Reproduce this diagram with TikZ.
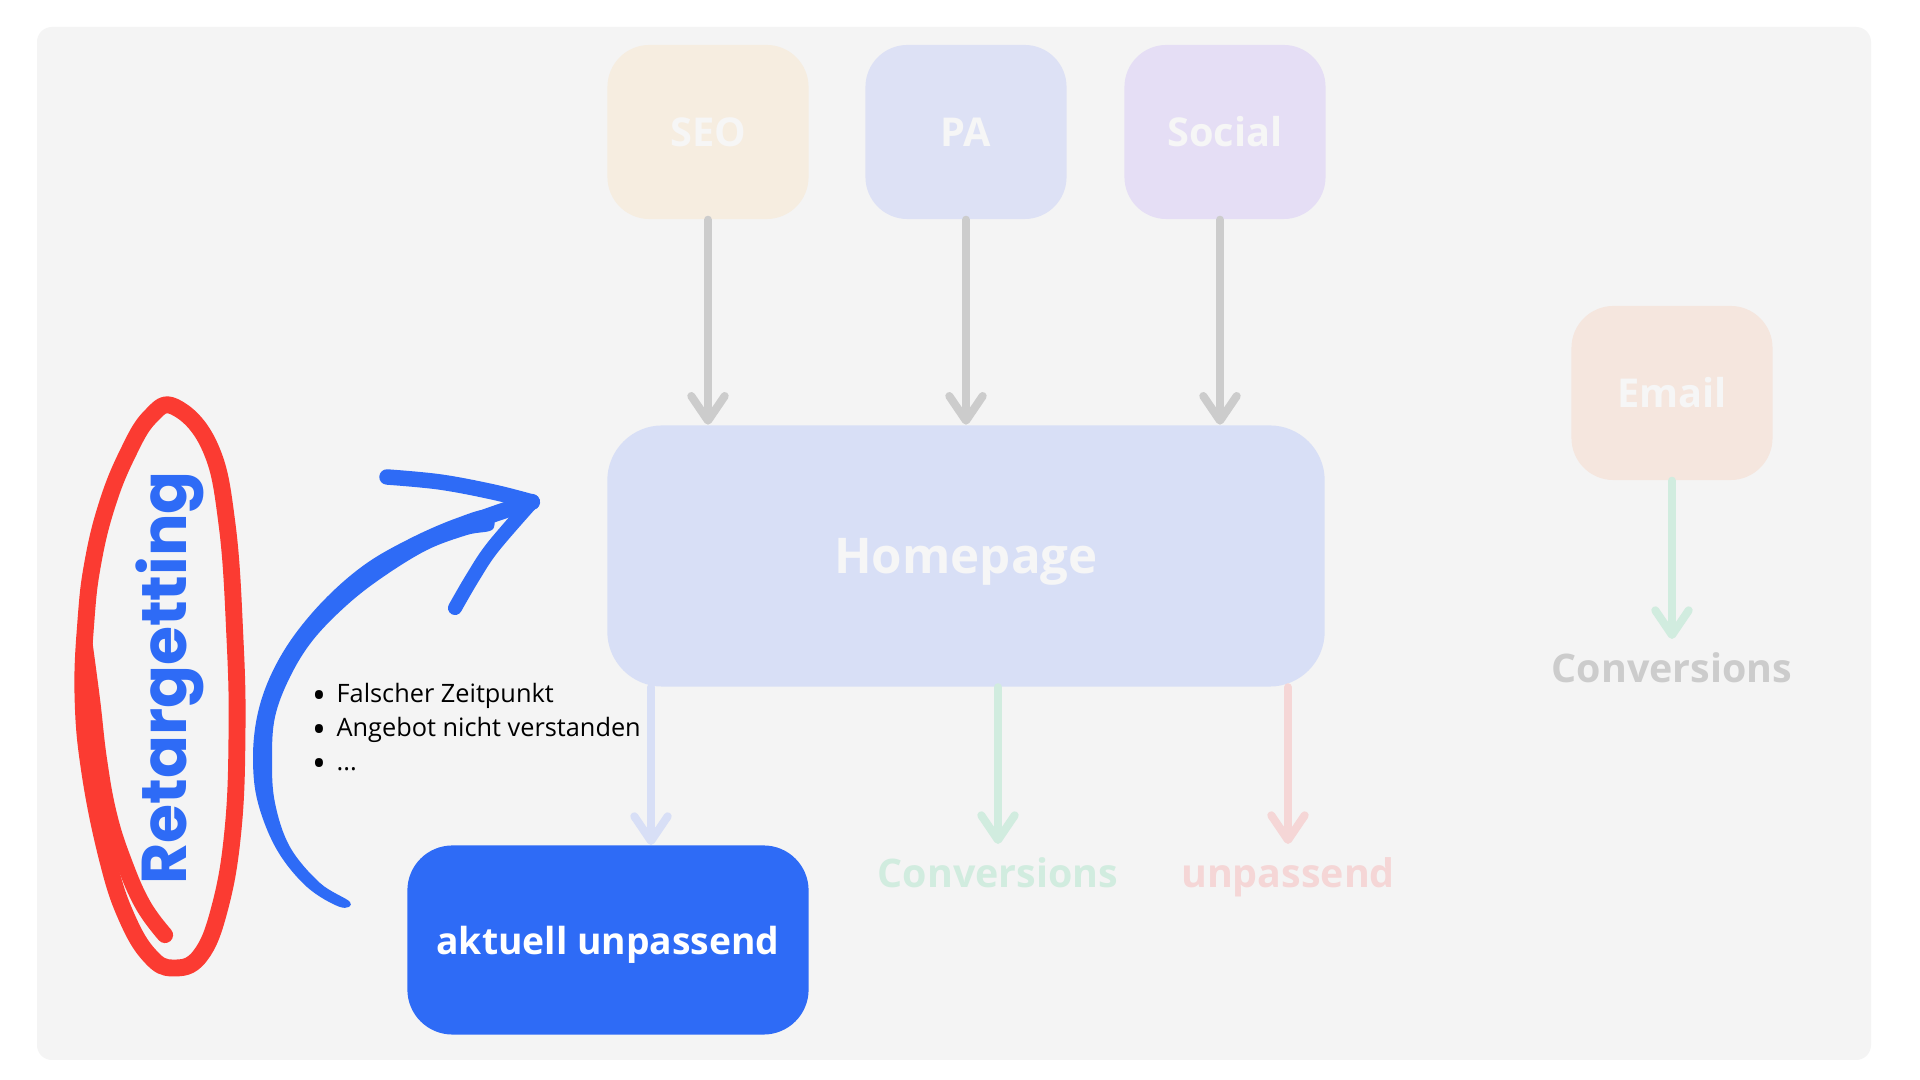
\documentclass[tikz,border=0pt]{standalone}
\usepackage{fontspec}
\setmainfont{Open Sans}
\newfontfamily\popfont{Poppins}
\usetikzlibrary{positioning,arrows.meta}

\definecolor{panel}{HTML}{F4F4F4}
\definecolor{seofill}{HTML}{F6EDE0}
\definecolor{pafill}{HTML}{DDE1F5}
\definecolor{socialfill}{HTML}{E5DEF5}
\definecolor{mailfill}{HTML}{F5E6DE}
\definecolor{homefill}{HTML}{D8DFF6}
\definecolor{paletext}{HTML}{F6F6F6}
\definecolor{arrgray}{HTML}{CCCCCC}
\definecolor{brandblue}{HTML}{2E6BF6}
\definecolor{loopred}{HTML}{FB3B32}
\definecolor{convgreen}{HTML}{D1ECDF}
\definecolor{badpink}{HTML}{F5D6D6}

\newcommand{\dotitem}{\makebox[6.8pt][l]{\raisebox{-1.5pt}{\fontsize{10.5}{10}\selectfont\textbullet}}}

\begin{document}
\begin{tikzpicture}[
    x=0.01cm, y=-0.01cm,
    chan/.style={rounded corners=0.42cm, minimum width=2.01cm, minimum height=1.74cm,
      text=paletext, text height=8.1pt, text depth=0pt, font=\bfseries\fontsize{11.3}{13}\selectfont},
    label/.style={inner sep=0pt, outer sep=4pt, font=\bfseries\fontsize{11.2}{13}\selectfont},
    arr/.style={-{Straight Barb[length=7pt,width=9.5pt,round]}, line width=2.3pt, line cap=round},
    pen/.style={line cap=round, line join=round}
]
% canvas
\fill[white] (0,0) rectangle (1920,1080);
\fill[panel, rounded corners=0.15cm] (37,27) rectangle (1871,1060);

% channels
\node[chan, fill=seofill] (seo) at (708,132) {SEO};
\node[chan, fill=pafill] (pa) at (966,132) {PA};
\node[chan, fill=socialfill] (social) at (1225,132) {Social};
\node[chan, fill=mailfill] (email) at (1672,393) {Email};

\node[fill=homefill, rounded corners=0.55cm, minimum width=7.17cm, minimum height=2.61cm,
  text=paletext, text height=10pt, text depth=0pt,
  font=\bfseries\fontsize{14}{16}\selectfont] (home) at (966,556) {Homepage};

\node[fill=brandblue, rounded corners=0.45cm, minimum width=4.01cm, minimum height=1.89cm,
  text=white, text height=8pt, text depth=0pt,
  font=\bfseries\fontsize{10.6}{12}\selectfont] (akt) at (608,940) {aktuell unpassend};

% outcomes
\node[label, text=arrgray, anchor=base] (mailconv) at (1672,683) {Conversions};
\node[label, text=convgreen, anchor=base] (conv) at (998,888) {Conversions};
\node[label, text=badpink, anchor=base] (unp) at (1288,888) {unpassend};
\coordinate (lost) at (651,845);

% channel arrows
\draw[arr, arrgray] (seo) -- (seo |- home.north);
\draw[arr, arrgray] (pa) -- (pa |- home.north);
\draw[arr, arrgray] ([xshift=-0.05cm]social.south) -- ([xshift=-0.05cm]social.south |- home.north);
\draw[arr, convgreen] (email) -- (mailconv);

\draw[arr, homefill] (lost |- home.south) -- (lost);
\draw[arr, convgreen] (conv |- home.south) -- (conv);
\draw[arr, badpink] (unp |- home.south) -- (unp);

% reasons
\node[inner sep=0pt, anchor=base west, align=left, font=\fontsize{7.2}{9.7}\selectfont] (why) at (312,771)
  {\dotitem Falscher Zeitpunkt\\
   \dotitem Angebot nicht verstanden\\
   \dotitem ...};

% retargeting loop
\node[rotate=90, anchor=base, text=brandblue, font=\popfont\bfseries\fontsize{18}{20}\selectfont]
  (retarget) at (186,678) {Retargetting};
\draw[loopred, pen, line width=4.8pt]
  plot[smooth cycle, tension=0.7] coordinates {(175,407) (210,447) (227,524) (235,639) (237,734)
    (233,830) (220,907) (200,956) (173,968) (150,956) (127,918) (108,861) (90,773) (83,696)
    (86,620) (93,562) (107,505) (127,455) (150,417)};
\draw[loopred, pen, line width=4.6pt]
  plot[smooth, tension=0.7] coordinates {(84,640) (92,700) (99,760) (109,815) (124,862) (143,905) (165,935)};

% way back
\fill[brandblue]
  plot[smooth cycle, tension=0.6] coordinates {(340,907) (307,887) (277,850) (258,803) (253,760)
    (257,717) (270,677) (293,637) (327,597) (367,563) (413,537) (457,518) (488,510)
    (493,529) (467,535) (427,550) (383,577) (347,605) (313,640) (290,677) (275,717)
    (272,760) (275,803) (290,847) (320,883) (350,902)};
\draw[brandblue, pen, line width=4.6pt]
  plot[smooth, tension=0.6] coordinates {(445,533) (475,521) (503,511) (532,502)};
\draw[brandblue, pen, line width=4.4pt]
  plot[smooth, tension=0.6] coordinates {(387,477) (440,482) (493,492) (532,502)};
\draw[brandblue, pen, line width=4pt]
  plot[smooth, tension=0.6] coordinates {(532,502) (493,547) (473,577) (455,608)};
\end{tikzpicture}
\end{document}
